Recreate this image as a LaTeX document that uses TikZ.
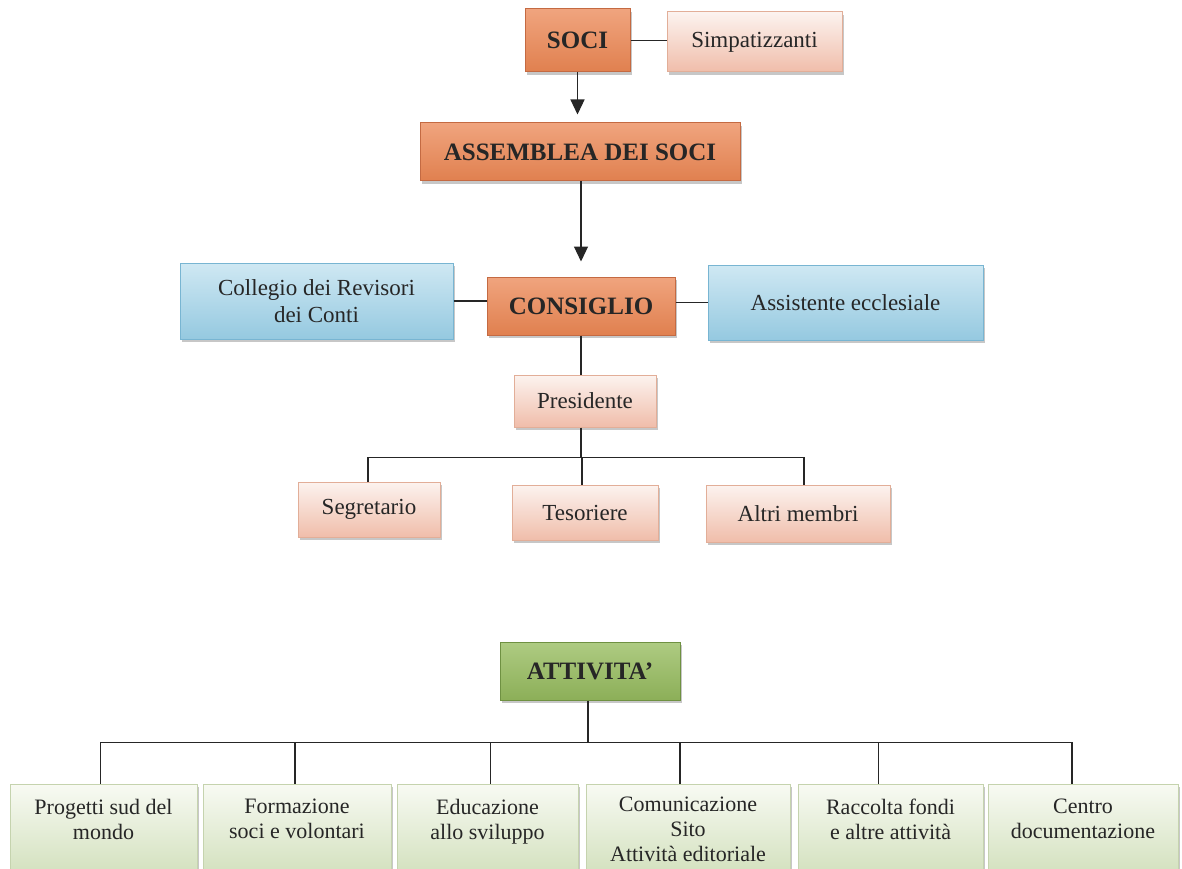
\documentclass[tikz,border=0pt]{standalone}
\usepackage{fontspec}
\setmainfont{Liberation Serif}
\usetikzlibrary{arrows.meta,positioning,shadows}
\definecolor{ink}{HTML}{262626}
\definecolor{orangetop}{HTML}{F0A47E}
\definecolor{orangebot}{HTML}{E0804F}
\definecolor{orangeline}{HTML}{C46A42}
\definecolor{pinktop}{HTML}{FCF3EF}
\definecolor{pinkbot}{HTML}{F0BDAA}
\definecolor{pinkline}{HTML}{E2AE98}
\definecolor{bluetop}{HTML}{CFE8F3}
\definecolor{bluebot}{HTML}{95C9E0}
\definecolor{blueline}{HTML}{78B5D2}
\definecolor{greentop}{HTML}{AECB82}
\definecolor{greenbot}{HTML}{8CAF58}
\definecolor{greenline}{HTML}{6F9142}
\definecolor{paletop}{HTML}{F8FAF3}
\definecolor{palebot}{HTML}{D3E1BE}
\definecolor{paleline}{HTML}{C5D3AE}
\tikzset{
  box/.style={inner sep=0pt,align=center,text=ink,line width=1pt,
              drop shadow={shadow xshift=2pt,shadow yshift=-3pt,
                           fill=black,opacity=0.22},
              font=\fontsize{23}{27}\selectfont},
  headbox/.style={box,draw=orangeline,top color=orangetop,
                  bottom color=orangebot,
                  font=\fontsize{25}{29}\selectfont\bfseries},
  rolebox/.style={box,draw=pinkline,top color=pinktop,bottom color=pinkbot},
  sidebox/.style={box,draw=blueline,top color=bluetop,bottom color=bluebot},
  actbox/.style={box,draw=greenline,top color=greentop,
                 bottom color=greenbot,
                 font=\fontsize{25}{29}\selectfont\bfseries},
  taskbox/.style={box,draw=paleline,top color=paletop,bottom color=palebot,
                  font=\fontsize{22}{25}\selectfont,
                  minimum height=90pt},
  lifted/.style={text depth=20pt},
  link/.style={line width=1.2pt,draw=ink},
  downarr/.style={link,-{Triangle[length=15pt,width=14pt]}}
}
\begin{document}
\begin{tikzpicture}[x=1pt,y=-1pt]
    \path[use as bounding box,fill=white] (0,0) rectangle (1182,869);

    \node[headbox,minimum width=105pt,minimum height=63pt] (soci)
      at (577.5,40.5) {SOCI};
    \node[rolebox,minimum width=175pt,minimum height=60pt] (simp)
      at (754.5,42) {Simpatizzanti};
    \node[headbox,minimum width=320pt,minimum height=58pt] (assem)
      at (580,152) {ASSEMBLEA DEI SOCI};
    \node[headbox,minimum width=188pt,minimum height=58pt] (consiglio)
      at (581,306) {CONSIGLIO};
    \node[sidebox,minimum width=273pt,minimum height=76pt] (collegio)
      at (316.5,301) {Collegio dei Revisori\\dei Conti};
    \node[sidebox,minimum width=275pt,minimum height=75pt] (assist)
      at (845.5,302.5) {Assistente ecclesiale};
    \node[rolebox,minimum width=142pt,minimum height=52pt] (pres)
      at (585,401) {Presidente};
    \node[rolebox,minimum width=142pt,minimum height=55pt] (segr)
      at (369,509.5) {Segretario};
    \node[rolebox,minimum width=146pt,minimum height=55pt] (tes)
      at (585,512.5) {Tesoriere};
    \node[rolebox,minimum width=184pt,minimum height=57pt] (altri)
      at (798,513.5) {Altri membri};

    \node[actbox,minimum width=180pt,minimum height=58pt] (attiv)
      at (590,671) {ATTIVITA'};
    \node[taskbox,lifted,minimum width=187pt] (prog)
      at (103.5,829) {Progetti sud del\\mondo};
    \node[taskbox,lifted,minimum width=188pt] (form)
      at (297,829) {Formazione\\soci e volontari};
    \node[taskbox,lifted,minimum width=181pt] (edu)
      at (487.5,829) {Educazione\\allo sviluppo};
    \node[taskbox,minimum width=204pt] (com)
      at (688,829) {Comunicazione\\Sito\\Attività editoriale};
    \node[taskbox,lifted,minimum width=185pt] (racc)
      at (890.5,829) {Raccolta fondi\\e altre attività};
    \node[taskbox,lifted,minimum width=190pt] (centro)
      at (1083,829) {Centro\\documentazione};

    \draw[link] (soci.east) -- (soci.east -| simp.west);
    \draw[downarr,shorten >=8pt] (soci.south) -- (soci.south |- assem.north);
    \draw[downarr,shorten >=15pt] (assem.south -| consiglio.north)
      -- (consiglio.north);
    \draw[link] (collegio.east) -- (collegio.east -| consiglio.west);
    \draw[link] (assist.west -| consiglio.east) -- (assist.west);
    \draw[link] (consiglio.south) -- (consiglio.south |- pres.north);
    \draw[link] (pres.south -| consiglio.south) -- ++(0,30) coordinate (fork);
    \foreach \n/\dx in {segr/-1,tes/-3,altri/6}{
      \draw[link] (fork) -| ([xshift=\dx pt]\n.north);
    }
    \draw[link] (attiv.south -| 588,0) -- ++(0,42) coordinate (split);
    \foreach \n/\dx in {prog/-3,form/-2,edu/3,com/-8,racc/-12,centro/-11}{
      \draw[link] (split) -| ([xshift=\dx pt]\n.north);
    }
  \end{tikzpicture}
\end{document}
